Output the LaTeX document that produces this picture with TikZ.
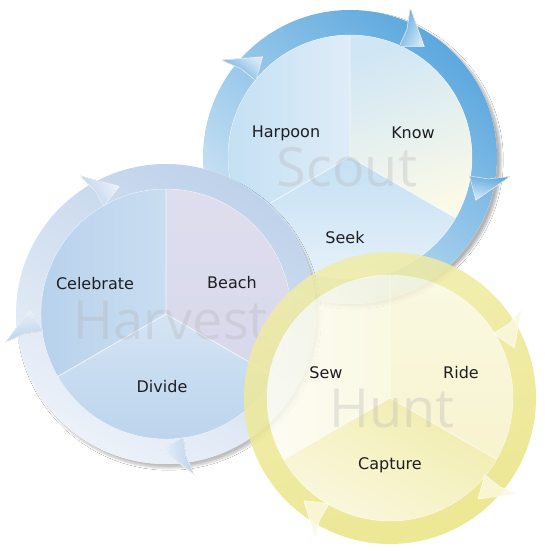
\documentclass[tikz,border=0pt]{standalone}
\usepackage{fontspec}
\setmainfont{DejaVu Sans}
\newfontfamily\markfont{Open Sans}
\usetikzlibrary{shadows.blur}

\definecolor{scoutring}{RGB}{92,168,222}
\definecolor{scoutpale}{RGB}{214,232,246}
\definecolor{scoutsec}{RGB}{196,224,243}
\definecolor{harvring}{RGB}{190,210,234}
\definecolor{harvpale}{RGB}{236,241,249}
\definecolor{harvsec}{RGB}{184,210,236}
\definecolor{harvlav}{RGB}{216,216,236}
\definecolor{huntring}{RGB}{234,228,128}
\definecolor{huntpale}{RGB}{250,248,222}
\definecolor{huntsec}{RGB}{240,234,160}
\definecolor{labeltext}{RGB}{30,30,34}

\begin{document}
\begin{tikzpicture}[x=1pt,y=1pt,
    steplabel/.style={font=\fontsize{16}{18}\selectfont, text=labeltext, inner sep=0},
    watermark/.style={font=\markfont\fontsize{54}{60}\selectfont, text=gray!60, text opacity=0.3, inner sep=0},
    divider/.style={white, line width=0.8pt, opacity=0.7},
    barb/.style={draw=white, line width=0.5pt, line join=round}]
  \useasboundingbox (0,0) rectangle (545,551);
  \fill[white] (0,0) rectangle (545,551);

  % Scout (top right)
  \begin{scope}[shift={(350,394)}]
    \fill[blur shadow={shadow xshift=4pt, shadow yshift=-3pt, shadow blur steps=10, shadow opacity=30}, white] (0,0) circle (147);
    \shade[even odd rule, top color=scoutring, bottom color=scoutpale, shading angle=-40]
      (0,0) circle (147) (0,0) circle (122);
    \shade[left color=scoutsec, right color=scoutpale!80]
      (0,0) -- (90:122) arc (90:210:122) -- cycle;
    \shade[top color=scoutsec!80, bottom color=huntpale!70, shading angle=20]
      (0,0) -- (-30:122) arc (-30:90:122) -- cycle;
    \shade[top color=scoutsec, bottom color=scoutpale!50]
      (0,0) -- (210:122) arc (210:330:122) -- cycle;
    \draw[divider] (0,0) -- (90:122) (0,0) -- (210:122) (0,0) -- (-30:122);
    \draw[white, opacity=0.6] (0,0) circle (122);
    \foreach \a in {140,65,-10}
      \fill[barb, top color=scoutring, bottom color=scoutpale, shading angle=\a]
        (\a+3:161) -- (\a-9:133) -- (\a+1:121) -- (\a+1:140) -- cycle;
    \node[watermark] (scoutmark) at (-3,-10) {Scout};
  \end{scope}

  % Harvest (left)
  \begin{scope}[shift={(166,237)}]
    \fill[blur shadow={shadow xshift=3pt, shadow yshift=-4pt, shadow blur steps=10, shadow opacity=25}, white] (0,0) circle (150);
    \shade[even odd rule, top color=harvring, bottom color=harvpale, shading angle=-30]
      (0,0) circle (150) (0,0) circle (125);
    \shade[left color=harvsec, right color=harvsec!75]
      (0,0) -- (90:125) arc (90:210:125) -- cycle;
    \shade[top color=harvlav!85, bottom color=harvlav]
      (0,0) -- (-30:125) arc (-30:90:125) -- cycle;
    \shade[top color=harvsec!60, bottom color=harvsec]
      (0,0) -- (210:125) arc (210:330:125) -- cycle;
    \draw[divider] (0,0) -- (90:125) (0,0) -- (210:125) (0,0) -- (-30:125);
    \draw[white, opacity=0.6] (0,0) circle (125);
    \foreach \a in {119,187,-83}
      \fill[barb, top color=harvsec, bottom color=harvpale, shading angle=\a]
        (\a+3:163) -- (\a-9:136) -- (\a+1:124) -- (\a+1:143) -- cycle;
    \node[watermark] (harvestmark) at (5,-6) {Harvest};
  \end{scope}

  % Hunt (bottom right)
  \begin{scope}[shift={(390,153)}, opacity=0.85]
    \shade[even odd rule, top color=huntring!70, bottom color=huntring, shading angle=20]
      (0,0) circle (146) (0,0) circle (123);
    \shade[left color=white!60!huntpale, right color=huntpale]
      (0,0) -- (90:123) arc (90:210:123) -- cycle;
    \shade[top color=huntpale, bottom color=huntsec!60]
      (0,0) -- (-30:123) arc (-30:90:123) -- cycle;
    \shade[top color=huntsec, bottom color=huntpale, shading angle=-30]
      (0,0) -- (210:123) arc (210:330:123) -- cycle;
    \draw[divider] (0,0) -- (90:123) (0,0) -- (210:123) (0,0) -- (-30:123);
    \draw[white, opacity=0.6] (0,0) circle (123);
    \foreach \a in {31,-40,-121}
      \fill[barb, fill=huntpale]
        (\a+3:159) -- (\a-9:134) -- (\a+1:122) -- (\a+1:141) -- cycle;
  \end{scope}
  \node[watermark] (huntmark) at (392,143) {Hunt};

  % step labels
  \node[steplabel] (harpoon) at (286,418) {Harpoon};
  \node[steplabel] (know) at (413,418) {Know};
  \node[steplabel] (seek) at (345,313) {Seek};
  \node[steplabel] (celebrate) at (95,267) {Celebrate};
  \node[steplabel] (beach) at (232,268) {Beach};
  \node[steplabel] (divide) at (162,164) {Divide};
  \node[steplabel] (sew) at (326,178) {Sew};
  \node[steplabel] (ride) at (461,178) {Ride};
  \node[steplabel] (capture) at (390,86) {Capture};
\end{tikzpicture}
\end{document}
